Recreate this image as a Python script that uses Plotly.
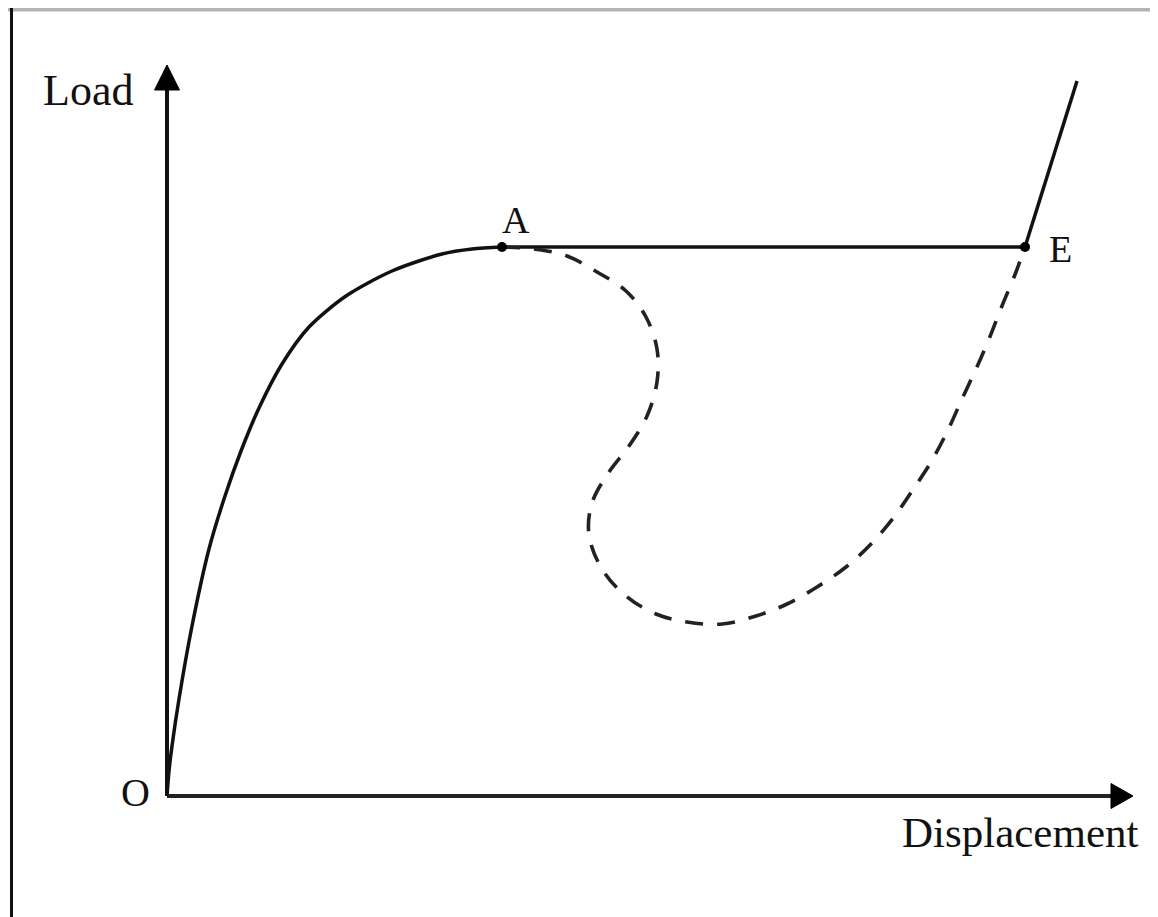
import plotly.graph_objects as go

# ---- data (schematic units: displacement, load) ----
oa_disp = [0.0, 0.02, 0.05, 0.12, 0.25, 0.42, 0.58, 0.74, 0.92, 1.15, 1.42, 1.79, 2.25, 2.75, 3.05, 3.35]
oa_load = [0.0, 0.25, 0.50, 0.97, 1.70, 2.47, 3.00, 3.45, 3.88, 4.32, 4.69, 5.00, 5.25, 5.42, 5.47, 5.49]

ae_disp = [3.35, 8.58]
ae_load = [5.49, 5.49]

dash_disp = [3.35, 3.67, 4.00, 4.30, 4.59, 4.79, 4.90, 4.90, 4.80, 4.62, 4.42, 4.25, 4.22,
             4.35, 4.59, 4.89, 5.20, 5.55, 5.89, 6.20, 6.50, 6.79, 7.04, 7.27, 7.45,
             7.64, 7.80, 7.95, 8.09, 8.22, 8.35, 8.49, 8.58]
dash_load = [5.49, 5.47, 5.40, 5.24, 5.05, 4.79, 4.47, 4.14, 3.80, 3.50, 3.24, 2.93, 2.61,
             2.27, 2.00, 1.82, 1.74, 1.72, 1.80, 1.92, 2.09, 2.29, 2.52, 2.79, 3.05,
             3.34, 3.64, 3.97, 4.27, 4.57, 4.90, 5.24, 5.49]

ef_disp = [8.58, 9.10]
ef_load = [5.49, 7.15]

point_labels = ["A", "E"]
point_disp = [3.35, 8.58]
point_load = [5.49, 5.49]

x_axis_end = 9.66
y_axis_end = 7.31
x_label = "Displacement"
y_label = "Load"
origin_label = "O"

# ---- layout constants (page has an 8px body margin) ----
W, H = 1150, 909
X_RANGE = [-1.59, 9.91]
Y_RANGE = [-1.21, 7.88]
px_x = (X_RANGE[1] - X_RANGE[0]) / W   # data units per pixel
px_y = (Y_RANGE[1] - Y_RANGE[0]) / H

fig = go.Figure()

# axes shafts
fig.add_trace(go.Scatter(x=[0, 0], y=[0, y_axis_end - 22 * px_y], mode="lines",
                         line=dict(color="#111111", width=4), hoverinfo="skip"))
fig.add_trace(go.Scatter(x=[0, x_axis_end - 18 * px_x], y=[0, 0], mode="lines",
                         line=dict(color="#222222", width=4), hoverinfo="skip"))
# arrowheads
fig.add_trace(go.Scatter(
    x=[0, -12.5 * px_x, 12.5 * px_x, 0],
    y=[y_axis_end, y_axis_end - 25 * px_y, y_axis_end - 25 * px_y, y_axis_end],
    mode="lines", fill="toself", fillcolor="black", line=dict(color="black", width=1),
    hoverinfo="skip"))
fig.add_trace(go.Scatter(
    x=[x_axis_end, x_axis_end - 22 * px_x, x_axis_end - 22 * px_x, x_axis_end],
    y=[0, 12.5 * px_y, -12.5 * px_y, 0],
    mode="lines", fill="toself", fillcolor="black", line=dict(color="black", width=1),
    hoverinfo="skip"))

# curves
fig.add_trace(go.Scatter(x=oa_disp, y=oa_load, mode="lines",
                         line=dict(color="#111111", width=3.5, shape="spline", smoothing=0.8),
                         hoverinfo="skip"))
fig.add_trace(go.Scatter(x=ae_disp, y=ae_load, mode="lines",
                         line=dict(color="#111111", width=3.5), hoverinfo="skip"))
fig.add_trace(go.Scatter(x=dash_disp, y=dash_load, mode="lines",
                         line=dict(color="#222222", width=3.6, dash="18px,14px",
                                   shape="spline", smoothing=1.0),
                         hoverinfo="skip"))
fig.add_trace(go.Scatter(x=ef_disp, y=ef_load, mode="lines",
                         line=dict(color="#111111", width=3.5), hoverinfo="skip"))
fig.add_trace(go.Scatter(x=point_disp, y=point_load, mode="markers",
                         marker=dict(color="black", size=10), hoverinfo="skip"))

font = dict(family="Liberation Serif, Times New Roman, serif", color="#111111")
annots = [
    dict(x=-0.79, y=7.06, text=y_label, size=44),
    dict(x=8.53, y=-0.36, text=x_label, size=43),
    dict(x=-0.32, y=0.04, text=origin_label, size=40),
    dict(x=3.49, y=5.76, text=point_labels[0], size=38),
    dict(x=8.93, y=5.47, text=point_labels[1], size=38),
]
for a in annots:
    fig.add_annotation(x=a["x"], y=a["y"], text=a["text"], showarrow=False,
                       xanchor="center", yanchor="middle",
                       font=dict(size=a["size"], **font))

# picture frame (top gray rule, left black rule)
fig.add_shape(type="line", xref="paper", yref="paper", x0=0, x1=1,
              y0=1 - 1.5 / H, y1=1 - 1.5 / H, line=dict(color="#b4b4b4", width=4))
fig.add_shape(type="line", xref="paper", yref="paper", x0=3.5 / W, x1=3.5 / W,
              y0=0, y1=1, line=dict(color="#111111", width=3))

fig.update_layout(
    width=W, height=H, margin=dict(l=0, r=0, t=0, b=0),
    paper_bgcolor="white", plot_bgcolor="white", showlegend=False,
    xaxis=dict(range=X_RANGE, visible=False, fixedrange=True),
    yaxis=dict(range=Y_RANGE, visible=False, fixedrange=True),
)

fig.write_html("out.html")
